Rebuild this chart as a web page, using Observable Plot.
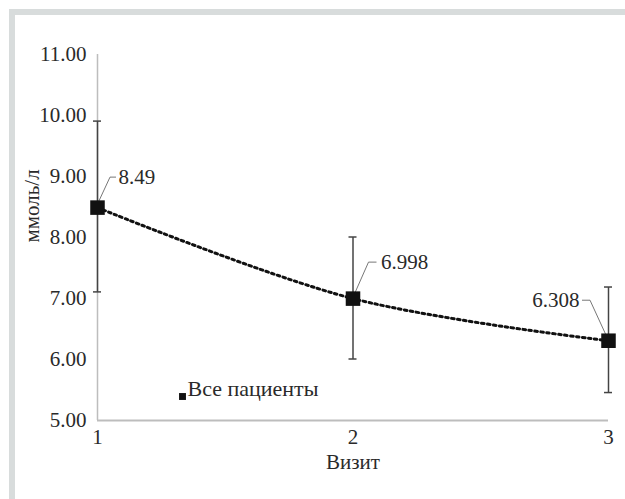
<!DOCTYPE html>
<html>
<head>
<meta charset="utf-8">
<script src="https://cdn.jsdelivr.net/npm/d3@7"></script>
<script src="https://cdn.jsdelivr.net/npm/@observablehq/plot@0.6"></script>
<style>
  html, body { margin: 0; padding: 0; background: #fff; }
  #wrap { position: relative; width: 625px; height: 499px; overflow: hidden; }
  #wrap svg, #wrap svg text { font-family: "Liberation Serif", "Times New Roman", serif !important; }
  #frame { position: absolute; top: 9px; left: 9px; width: 700px; height: 600px;
           border-top: 6px solid #d8dcdc; border-left: 6px solid #d8dcdc; pointer-events: none; }
</style>
</head>
<body>
<div id="wrap"><div id="frame"></div></div>
<script>
const visits = [1, 2, 3];
const means = [8.49, 6.998, 6.308];
const errLow = [7.10, 6.00, 5.45];
const errHigh = [9.90, 8.00, 7.18];
const valueLabels = ["8.49", "6.998", "6.308"];
const yTicks = [5, 6, 7, 8, 9, 10, 11];
const seriesName = "Все пациенты";
const xTitle = "Визит";
const yTitle = "ммоль/л";

const rows = visits.map((v, i) => ({visit: v, mean: means[i], lo: errLow[i], hi: errHigh[i], label: valueLabels[i]}));

// label placement (pixel offsets from each point) — styles only
const labelStyle = [
  {dx: 21, dy: -30, anchor: "start", leader: [[0, -2], [13, -30], [19, -30]]},
  {dx: 28, dy: -36, anchor: "start", leader: [[1, -2], [16, -36], [24, -36]]},
  {dx: -29, dy: -40, anchor: "end", leader: [[-1, -3], [-18, -40], [-26, -40]]}
];

const FONT = "'Liberation Serif', 'Times New Roman', serif";
const FS = 21;

function caps(index, scales) {
  const g = d3.create("svg:g").attr("stroke", "#444").attr("stroke-width", 1.5);
  rows.forEach(r => {
    const x = scales.x(r.visit);
    [r.lo, r.hi].forEach(v => {
      const y = scales.y(v);
      g.append("line").attr("x1", x - 4).attr("x2", x + 4).attr("y1", y).attr("y2", y);
    });
  });
  return g.node();
}

function leaders(index, scales) {
  const g = d3.create("svg:g").attr("stroke", "#777").attr("stroke-width", 1).attr("fill", "none");
  rows.forEach((r, i) => {
    const x = scales.x(r.visit), y = scales.y(r.mean);
    const pts = labelStyle[i].leader.map(([a, b]) => [x + a, y + b]);
    g.append("path").attr("d", d3.line()(pts));
  });
  return g.node();
}

const chart = Plot.plot({
  width: 625,
  height: 499,
  marginLeft: 97,
  marginRight: 17,
  marginTop: 54,
  marginBottom: 79,
  style: {fontFamily: FONT, fontSize: FS + "px", color: "#2a2a2a", background: "transparent", overflow: "visible"},
  x: {domain: [visits[0], visits[visits.length - 1]]},
  y: {domain: [yTicks[0], yTicks[yTicks.length - 1]]},
  marks: [
    Plot.axisY({ticks: yTicks, tickSize: 0, tickPadding: 11, tickFormat: d => d.toFixed(2), label: null, fontSize: FS}),
    Plot.axisX({ticks: visits, tickSize: 0, tickPadding: 9, tickFormat: d => String(d), label: null, fontSize: FS}),
    Plot.ruleX([visits[0]], {y1: yTicks[0], y2: yTicks[yTicks.length - 1], stroke: "#bdbdbd", strokeWidth: 1.5}),
    Plot.ruleY([yTicks[0]], {stroke: "#bdbdbd", strokeWidth: 2}),
    Plot.ruleX(rows, {x: "visit", y1: "lo", y2: "hi", stroke: "#444", strokeWidth: 1.5}),
    caps,
    Plot.line(rows, {x: "visit", y: "mean", curve: "catmull-rom", stroke: "#111", strokeWidth: 3, strokeDasharray: "2.6,3.4"}),
    leaders,
    Plot.dot(rows, {x: "visit", y: "mean", symbol: "square", r: 8.2, fill: "#111", stroke: "none"}),
    ...rows.map((r, i) => Plot.text([r], {x: "visit", y: "mean", text: "label", dx: labelStyle[i].dx, dy: labelStyle[i].dy,
      textAnchor: labelStyle[i].anchor, fontSize: FS, fill: "#2a2a2a"})),
    Plot.text([yTitle], {text: d => d, frameAnchor: "left", dx: -65, dy: 5, rotate: -90, fontSize: FS, fill: "#2a2a2a"}),
    Plot.text([xTitle], {text: d => d, frameAnchor: "bottom", dy: 48, fontSize: FS, fill: "#2a2a2a"}),
    Plot.dot([seriesName], {frameAnchor: "bottom-left", dx: 85, dy: -24, symbol: "square", r: 3.9, fill: "#111", stroke: "none"}),
    Plot.text([seriesName], {text: d => d, frameAnchor: "bottom-left", dx: 90, dy: -25, textAnchor: "start", fontSize: 22, fill: "#2a2a2a"})
  ]
});
document.getElementById("wrap").insertBefore(chart, document.getElementById("frame"));
</script>
</body>
</html>
